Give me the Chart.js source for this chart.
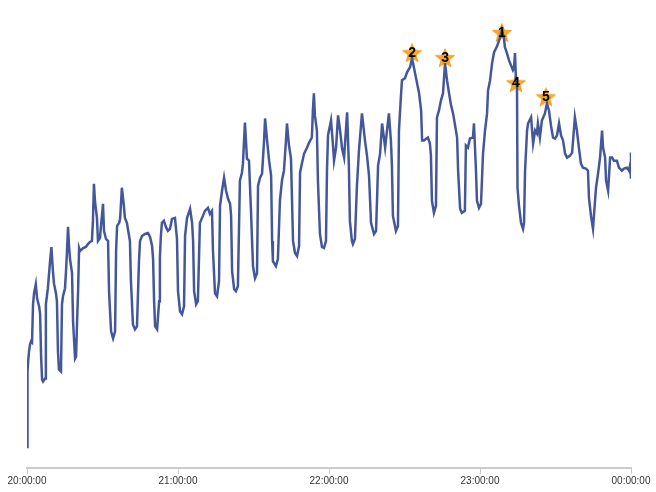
<!DOCTYPE html>
<html>
<head>
<meta charset="utf-8">
<script src="https://cdn.jsdelivr.net/npm/chart.js@4.4.1/dist/chart.umd.min.js"></script>
<style>
  html, body { margin: 0; padding: 0; background: #fff; }
  #wrap { width: 656px; height: 492px; }
</style>
</head>
<body>
<div id="wrap"><canvas id="myChart"></canvas></div>
<script>
// minutes after 20:00:00
var minutes = [0,0.2,0.4,0.8,1.2,1.6,2.0,2.4,2.8,3.5,4.0,4.8,5.2,5.6,6.0,6.4,7.2,7.5,7.9,8.3,9.1,9.7,10.3,10.7,11.5,11.9,12.3,12.7,13.5,13.9,14.3,15.1,15.5,15.9,16.3,16.7,17.1,17.9,18.3,19.1,19.5,19.9,20.3,20.7,21.1,22.3,23.4,24.2,25.0,25.8,26.2,26.6,27.0,27.8,28.2,29.0,29.4,30.2,30.6,31.4,32.2,32.6,33.4,34.2,35.0,35.4,35.8,36.6,37.0,37.7,38.5,38.9,39.7,40.1,40.9,41.3,42.1,42.9,43.7,44.5,44.9,45.7,46.9,48.1,48.9,49.7,50.1,50.5,50.9,51.7,52.5,52.8,53.2,53.6,54.4,55.2,56.0,56.8,57.6,58.8,59.6,60.0,60.8,61.6,62.4,62.8,63.6,64.8,65.6,66.0,66.4,67.2,67.9,68.7,69.9,70.7,71.9,72.7,73.5,73.9,74.7,75.5,76.3,76.7,77.5,78.3,79.1,79.9,80.7,81.1,81.5,82.3,83.0,83.8,84.6,85.4,85.8,86.6,87.0,87.4,88.2,89.0,89.8,90.6,91.4,91.8,92.6,93.4,94.2,94.6,95.4,96.2,97.0,97.4,97.7,98.9,99.7,100.5,101.3,102.1,102.9,103.3,104.1,104.9,105.7,106.5,107.3,108.1,108.5,109.3,110.1,111.3,112.1,113.2,113.6,114.0,114.4,115.2,115.6,116.4,117.2,118.0,118.8,119.2,119.6,120.8,121.6,122.0,122.8,123.6,124.4,125.2,126.0,127.2,127.9,128.3,129.1,129.5,130.3,131.1,131.9,133.1,134.3,135.1,135.9,136.7,137.9,138.7,139.5,140.3,141.1,142.3,143.8,144.6,145.0,145.4,146.6,147.4,147.8,148.6,149.0,150.2,151.0,152.2,153.0,153.8,155.0,155.8,156.6,157.0,157.7,159.3,160.1,160.5,160.9,161.7,162.5,162.9,163.7,164.5,165.3,166.1,166.9,167.7,168.5,169.3,170.1,170.9,171.3,172.1,172.8,174.0,174.4,175.2,176.0,177.2,177.6,178.4,178.8,179.6,180.4,181.2,182.0,182.8,183.2,184.0,184.8,185.6,186.8,187.9,188.7,189.5,189.9,190.7,191.5,192.3,193.1,193.5,193.9,194.3,194.7,194.9,195.5,196.3,197.1,197.5,197.9,198.7,199.1,200.3,201.1,201.9,202.6,203.0,203.8,204.6,205.8,206.6,207.4,208.2,209.0,209.8,210.6,211.4,212.2,213.0,213.8,214.6,215.8,216.6,217.7,218.5,219.3,220.1,220.9,222.1,222.9,223.3,224.1,224.9,225.7,226.1,226.9,227.7,228.5,228.9,229.7,230.1,230.9,231.7,232.5,233.2,234.4,235.2,236.4,237.2,238.4,239.2,239.6,240.0,240.0];
var values = [21,96,104,116,123,126,125,163,174,183,169,161,154,111,88,86,89,163,171,179,204,220,196,184,174,166,116,98,96,163,171,179,196,216,240,221,208,194,146,109,111,146,176,219,216,219,220,223,225,226,246,283,266,249,226,229,241,263,236,228,226,176,136,129,136,216,241,244,248,279,261,249,244,238,226,186,143,138,141,206,226,231,233,234,230,221,208,166,141,138,166,209,231,244,246,240,236,238,248,249,228,176,156,153,161,231,249,258,244,226,176,163,166,244,251,256,259,253,256,216,174,171,186,261,276,289,276,268,263,251,196,178,176,181,286,294,303,344,326,308,306,256,201,189,194,281,289,293,326,348,326,306,291,226,206,201,208,266,286,296,326,343,321,308,226,214,211,221,294,304,313,319,324,329,356,373,351,336,286,233,220,219,226,296,331,346,321,306,319,351,336,318,309,354,301,246,226,223,228,281,316,353,326,311,291,244,233,236,301,313,343,319,353,326,301,251,236,241,336,371,386,388,394,399,408,398,383,373,356,326,326,329,323,311,266,254,261,349,356,366,373,403,386,373,361,353,341,329,296,258,254,256,321,319,328,329,343,296,266,259,263,313,336,353,376,386,403,414,420,428,436,428,419,413,406,401,396,398,413,386,381,279,261,244,238,244,296,336,343,349,323,336,333,343,329,346,353,363,356,341,329,328,331,343,331,326,313,309,311,314,349,336,319,303,299,298,296,269,251,238,266,279,293,309,336,319,309,286,276,309,309,306,306,299,296,298,299,296,301,288,314];

// marked peaks
var peakLabels = ["1", "2", "3", "4", "5"];
var peakMinutes = [188.7, 153.0, 166.1, 194.3, 206.2];
var peakValues = [433, 413, 408, 383, 369];

var tickLabels = ["20:00:00", "21:00:00", "22:00:00", "23:00:00", "00:00:00"];

var lineData = minutes.map(function (m, i) { return {x: m, y: values[i]}; });
var peakData = peakMinutes.map(function (m, i) { return {x: m, y: peakValues[i]}; });

// filled orange star used as point style
var star = document.createElement("canvas");
star.width = 22;
star.height = 22;
var sc = star.getContext("2d");
sc.beginPath();
for (var k = 0; k < 10; k++) {
    var r = k % 2 === 0 ? 10 : 4.2;
    var a = -Math.PI / 2 + k * Math.PI / 5;
    var px = 11 + r * Math.cos(a), py = 11.5 + r * Math.sin(a);
    if (k === 0) sc.moveTo(px, py); else sc.lineTo(px, py);
}
sc.closePath();
sc.fillStyle = "#f9a825";
sc.fill();
sc.strokeStyle = "#f0960f";
sc.lineWidth = 0.8;
sc.stroke();

var peakText = {
    id: "peakText",
    afterDatasetsDraw: function (chart) {
        var ctx = chart.ctx;
        var meta = chart.getDatasetMeta(1);
        ctx.save();
        ctx.font = "bold 14px 'Liberation Sans', Arial, sans-serif";
        ctx.fillStyle = "#000";
        ctx.textAlign = "center";
        ctx.textBaseline = "middle";
        meta.data.forEach(function (pt, i) {
            ctx.fillText(peakLabels[i], pt.x, pt.y);
        });
        ctx.restore();
    }
};

new Chart("myChart", {
    type: "line",
    data: {
        datasets: [{
            data: lineData,
            borderColor: "#44579b",
            borderWidth: 2.5,
            pointRadius: 0,
            tension: 0,
            fill: false
        }, {
            data: peakData,
            showLine: false,
            pointStyle: star,
            pointRadius: 10,
            pointHoverRadius: 10
        }]
    },
    options: {
        responsive: true,
        maintainAspectRatio: false,
        animation: false,
        events: [],
        layout: {padding: {left: 27, right: 25, top: 20, bottom: 4}},
        plugins: {
            legend: {display: false},
            tooltip: {enabled: false}
        },
        scales: {
            x: {
                type: "linear",
                min: 0,
                max: 240,
                grid: {drawOnChartArea: false, drawTicks: true, tickLength: 6, color: "#cccccc"},
                border: {display: true, color: "#cccccc", width: 2},
                ticks: {
                    stepSize: 60,
                    padding: 1,
                    maxRotation: 0,
                    color: "#333",
                    font: {family: "'Liberation Sans', Arial, sans-serif", size: 10},
                    callback: function (v) { return tickLabels[Math.round(v / 60)]; }
                }
            },
            y: {
                display: false,
                min: 0,
                max: 446
            }
        }
    },
    plugins: [peakText]
});
</script>
</body>
</html>
